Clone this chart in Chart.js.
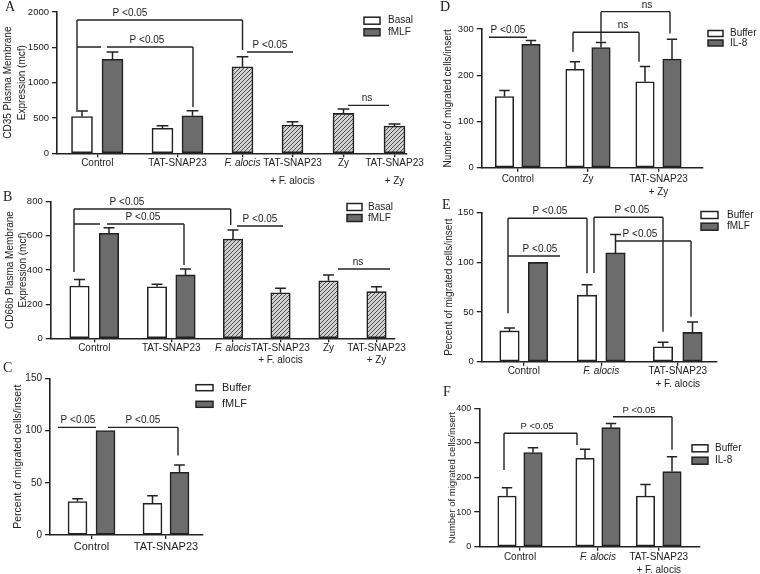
<!DOCTYPE html>
<html>
<head>
<meta charset="utf-8">
<script src="https://cdn.jsdelivr.net/npm/chart.js@4.4.1/dist/chart.umd.min.js"></script>
<style>
  html, body { margin: 0; padding: 0; background: #fff; }
  #fig { position: relative; width: 760px; height: 574px; overflow: hidden; }
  #fig canvas { position: absolute; left: 0; top: 0; }
  .tag { position: absolute; font: 14px "Liberation Serif", "DejaVu Serif", serif; line-height: 14px; color: #222; }
</style>
</head>
<body>
<div id="fig">
  <canvas id="cA" width="760" height="574"></canvas>
  <canvas id="cB" width="760" height="574"></canvas>
  <canvas id="cC" width="760" height="574"></canvas>
  <canvas id="cD" width="760" height="574"></canvas>
  <canvas id="cE" width="760" height="574"></canvas>
  <canvas id="cF" width="760" height="574"></canvas>
  <span class="tag" style="left:5px;top:0px">A</span>
  <span class="tag" style="left:3px;top:190px">B</span>
  <span class="tag" style="left:3px;top:361px">C</span>
  <span class="tag" style="left:440px;top:0px">D</span>
  <span class="tag" style="left:442px;top:198px">E</span>
  <span class="tag" style="left:443px;top:385px">F</span>
</div>
<script>
// ---- A: CD35 ----
const groupsA = ['Control', 'TAT-SNAP23', 'F. alocis', ['TAT-SNAP23', '+ F. alocis'], 'Zy', ['TAT-SNAP23', '+ Zy']];
const basalA = [520, 355, null, null, null, null];
const basalErrA = [80, 35, null, null, null, null];
const fmlfA = [1330, 530, null, null, null, null];
const fmlfErrA = [105, 72, null, null, null, null];
const stimA = [null, null, 1225, 400, 565, 385];
const stimErrA = [null, null, 140, 47, 61, 30];
const yTicksA = [0, 500, 1000, 1500, 2000];

// ---- B: CD66b ----
const groupsB = ['Control', 'TAT-SNAP23', 'F. alocis', ['TAT-SNAP23', '+ F. alocis'], 'Zy', ['TAT-SNAP23', '+ Zy']];
const basalB = [306, 302, null, null, null, null];
const basalErrB = [39, 14, null, null, null, null];
const fmlfB = [615, 371, null, null, null, null];
const fmlfErrB = [33, 35, null, null, null, null];
const stimB = [null, null, 581, 267, 337, 273];
const stimErrB = [null, null, 53, 26, 34, 29];
const yTicksB = [0, 200, 400, 600, 800];

// ---- C: migration, fMLF ----
const groupsC = ['Control', 'TAT-SNAP23'];
const bufferC = [32, 30.3];
const bufferErrC = [2.6, 7.3];
const fmlfC = [100, 60];
const fmlfErrC = [0, 7];
const yTicksC = [0, 50, 100, 150];

// ---- D: migration, IL-8 with Zy ----
const groupsD = ['Control', 'Zy', ['TAT-SNAP23', '+ Zy']];
const bufferD = [154, 213, 186];
const bufferErrD = [13, 16, 33];
const il8D = [267, 260, 235];
const il8ErrD = [8, 11, 43];
const yTicksD = [0, 100, 200, 300];

// ---- E: migration, fMLF with F. alocis ----
const groupsE = ['Control', 'F. alocis', ['TAT-SNAP23', '+ F. alocis']];
const bufferE = [31, 67, 15];
const bufferErrE = [3, 10.5, 4.5];
const fmlfE = [100, 109.5, 29.5];
const fmlfErrE = [0, 18.5, 10.5];
const yTicksE = [0, 50, 100, 150];

// ---- F: migration, IL-8 with F. alocis ----
const groupsF = ['Control', 'F. alocis', ['TAT-SNAP23', '+ F. alocis']];
const bufferF = [146.5, 255.5, 146.5];
const bufferErrF = [24, 26, 33.5];
const il8F = [272, 344, 217];
const il8ErrF = [14, 12, 43];
const yTicksF = [0, 100, 200, 300, 400];

// significance brackets (x in axis units, y in data units)
const sigA = [
  { x1: 20, x2: 185.5, y: 1887, d1: 614, d2: 1462, text: 'P <0.05', tx: 73 },
  { x1: 20, x2: 136, y: 1505, d2: 656, gap: [44, 50], text: 'P <0.05', tx: 90 },
  { x1: 190, x2: 236, y: 1434, text: 'P <0.05', tx: 213 },
  { x1: 291, x2: 332, y: 679, text: 'ns', tx: 310 }
];
const sigB = [
  { x1: 23.3, x2: 180, y: 757, d1: 388, d2: 664, text: 'P <0.05', tx: 76.3 },
  { x1: 23.3, x2: 133.3, y: 669, d2: 429, gap: [49.3, 56.3], text: 'P <0.05', tx: 92.3 },
  { x1: 186.3, x2: 232.3, y: 658, text: 'P <0.05', tx: 209.3 },
  { x1: 287.3, x2: 339.3, y: 406, text: 'ns', tx: 307.3 }
];
const sigC = [
  { x1: 8, x2: 46, y: 103, text: 'P <0.05', tx: 28 },
  { x1: 58, x2: 128, y: 103, d2: 76, text: 'P <0.05', tx: 93 }
];
const sigD = [
  { x1: 7.3, x2: 45.3, y: 282, text: 'P <0.05', tx: 26.3 },
  { x1: 91.3, x2: 157.3, y: 293, d1: 251, d2: 229, text: 'ns', tx: 141.3 },
  { x1: 119.3, x2: 188.3, y: 337.5, d1: 272.5, d2: 290.5, text: 'ns', tx: 165.3 }
];
const sigE = [
  { x1: 26.3, x2: 105.3, y: 144.4, d1: 48.7, d2: 89, text: 'P <0.05', tx: 68.3 },
  { x1: 26.3, x2: 78.3, y: 106.4, text: 'P <0.05', tx: 58.3 },
  { x1: 112.3, x2: 181.3, y: 145.4, d1: 89.3, d2: 30.2, text: 'P <0.05', tx: 150.3 },
  { x1: 133.3, x2: 209.3, y: 121.5, d2: 45.3, text: 'P <0.05', tx: 158.3 }
];
const sigF = [
  { x1: 24.7, x2: 97.7, y: 327.7, d1: 221.7, d2: 294, text: 'P <0.05', tx: 57.7 },
  { x1: 133.7, x2: 192.7, y: 375.7, d2: 280.1, text: 'P <0.05', tx: 159.7 }
];

const FONT = "'Liberation Sans', Arial, sans-serif";
const INK = '#222222';
const WHITE = '#ffffff';
const DARK = '#6c6c6c';

Chart.defaults.font.family = FONT;
Chart.defaults.color = INK;

function hatchPattern() {
  const c = document.createElement('canvas');
  c.width = 4; c.height = 4;
  const g = c.getContext('2d');
  g.fillStyle = '#d2d2d2';
  g.fillRect(0, 0, 4, 4);
  g.strokeStyle = '#3c3c3c';
  g.lineWidth = 0.9;
  g.beginPath();
  g.moveTo(0, 4); g.lineTo(4, 0);
  g.moveTo(-1, 1); g.lineTo(1, -1);
  g.moveTo(3, 5); g.lineTo(5, 3);
  g.stroke();
  return g.createPattern(c, 'repeat');
}
const HATCH = hatchPattern();

function makeChart(id, p) {
  const L = p.layout;
  const centers = L.slots.map(s => s.reduce((a, b) => a + b, 0) / s.length);
  const datasets = p.series.map(s => {
    const data = [], errs = [];
    s.values.forEach((v, g) => {
      if (v === null) return;
      const k = p.series.filter(t => t.values[g] !== null).indexOf(s);
      data.push({ x: L.slots[g][k], y: v });
      errs.push(s.errs[g]);
    });
    return {
      label: s.name, data, errs,
      backgroundColor: s.fill, borderColor: INK, borderWidth: 1.6,
      borderSkipped: false, barThickness: L.barW, grouped: false
    };
  });

  const extras = {
    id: 'extras' + id,
    afterDatasetsDraw(chart) {
      const ctx = chart.ctx, ys = chart.scales.y;
      ctx.save();
      ctx.strokeStyle = INK;
      ctx.lineWidth = 1.5;
      chart.data.datasets.forEach((ds, i) => {
        chart.getDatasetMeta(i).data.forEach((bar, j) => {
          const e = ds.errs[j];
          if (!e) return;
          const top = ys.getPixelForValue(ds.data[j].y + e);
          const half = L.barW * 0.28;
          ctx.beginPath();
          ctx.moveTo(bar.x, bar.y); ctx.lineTo(bar.x, top);
          ctx.moveTo(bar.x - half, top); ctx.lineTo(bar.x + half, top);
          ctx.stroke();
        });
      });
      ctx.restore();
    },
    afterDraw(chart) {
      const ctx = chart.ctx, xs = chart.scales.x, ys = chart.scales.y;
      const X = v => xs.getPixelForValue(v), Y = v => ys.getPixelForValue(v);
      ctx.save();
      ctx.strokeStyle = INK;
      ctx.fillStyle = INK;
      ctx.lineWidth = 1.4;
      ctx.font = L.sigSize + 'px ' + FONT;
      ctx.textAlign = 'center';
      ctx.textBaseline = 'alphabetic';
      p.sig.forEach(b => {
        const y = Y(b.y);
        ctx.beginPath();
        if (b.gap) {
          ctx.moveTo(X(b.x1), y); ctx.lineTo(X(b.gap[0]), y);
          ctx.moveTo(X(b.gap[1]), y); ctx.lineTo(X(b.x2), y);
        } else {
          ctx.moveTo(X(b.x1), y); ctx.lineTo(X(b.x2), y);
        }
        if (b.d1 != null) { ctx.moveTo(X(b.x1), y); ctx.lineTo(X(b.x1), Y(b.d1)); }
        if (b.d2 != null) { ctx.moveTo(X(b.x2), y); ctx.lineTo(X(b.x2), Y(b.d2)); }
        ctx.stroke();
        ctx.fillText(b.text, X(b.tx), y - 4);
      });
      // legend
      const lg = L.legend;
      ctx.textAlign = 'left';
      ctx.textBaseline = 'middle';
      ctx.font = lg.size + 'px ' + FONT;
      ctx.lineWidth = 1.5;
      p.series.filter(s => s.legend).forEach((s, i) => {
        const y = lg.y[i];
        ctx.fillStyle = s.fill;
        ctx.fillRect(lg.x, y - lg.h / 2, lg.w, lg.h);
        ctx.strokeRect(lg.x, y - lg.h / 2, lg.w, lg.h);
        ctx.fillStyle = INK;
        ctx.fillText(s.name, lg.x + lg.off, y);
      });
      ctx.restore();
    }
  };

  return new Chart(document.getElementById(id), {
    type: 'bar',
    data: { datasets },
    options: {
      responsive: false,
      animation: false,
      events: [],
      layout: {
        padding: {
          left: L.x0 - L.yw,
          top: L.yTop,
          right: 760 - L.x0 - L.xMax,
          bottom: Math.max(0, 574 - L.yBottom - L.xh)
        }
      },
      plugins: { legend: { display: false }, tooltip: { enabled: false } },
      scales: {
        x: {
          type: 'linear', min: 0, max: L.xMax, offset: false,
          grid: { offset: false, drawOnChartArea: false, drawTicks: true, tickLength: 4, color: INK, lineWidth: 1.3 },
          border: { display: true, color: INK, width: 1.6 },
          afterBuildTicks: s => { s.ticks = centers.map(v => ({ value: v })); },
          afterFit: s => { s.height = L.xh; },
          ticks: {
            autoSkip: false, maxRotation: 0, minRotation: 0,
            padding: L.tickPad, color: INK,
            callback: (v, i) => p.groups[i],
            font: c => ({
              family: FONT, size: L.xSize, lineHeight: L.tickLH + 'px',
              style: p.groups[c.index] === 'F. alocis' ? 'italic' : 'normal'
            })
          }
        },
        y: {
          min: 0, max: p.yTicks[p.yTicks.length - 1],
          grid: { drawOnChartArea: false, drawTicks: true, tickLength: 5, color: INK, lineWidth: 1.3 },
          border: { display: true, color: INK, width: 1.6 },
          afterFit: s => { s.width = L.yw; },
          afterBuildTicks: s => { s.ticks = p.yTicks.map(v => ({ value: v })); },
          ticks: { padding: 3, color: INK, font: { size: L.ySize }, callback: v => String(v) },
          title: {
            display: true, text: p.yTitle, color: INK, padding: 0,
            font: { size: L.titleSize, lineHeight: L.titleLH + 'px' }
          }
        }
      }
    },
    plugins: [extras]
  });
}

makeChart('cA', {
  groups: groupsA, yTicks: yTicksA, sig: sigA,
  yTitle: ['CD35 Plasma Membrane', 'Expression (mcf)'],
  series: [
    { name: 'Basal', values: basalA, errs: basalErrA, fill: WHITE, legend: true },
    { name: 'fMLF', values: fmlfA, errs: fmlfErrA, fill: DARK, legend: true },
    { name: 'Stimulus', values: stimA, errs: stimErrA, fill: HATCH, legend: false }
  ],
  layout: {
    x0: 57, xMax: 350, yTop: 12, yBottom: 153.3, yw: 56, xh: 40, barW: 21,
    slots: [[25, 55.5], [105.5, 135.5], [185.5], [235.5], [286.5], [337.5]],
    tickPad: -3.3, tickLH: 18, xSize: 10, ySize: 9.5, titleSize: 10, titleLH: 14, sigSize: 10,
    legend: { x: 364, y: [20.7, 32.3], w: 16, h: 7, off: 24, size: 10 }
  }
});

makeChart('cB', {
  groups: groupsB, yTicks: yTicksB, sig: sigB,
  yTitle: ['CD66b Plasma Membrane', 'Expression (mcf)'],
  series: [
    { name: 'Basal', values: basalB, errs: basalErrB, fill: WHITE, legend: true },
    { name: 'fMLF', values: fmlfB, errs: fmlfErrB, fill: DARK, legend: true },
    { name: 'Stimulus', values: stimB, errs: stimErrB, fill: HATCH, legend: false }
  ],
  layout: {
    x0: 50.7, xMax: 344.3, yTop: 201.7, yBottom: 338.3, yw: 47.2, xh: 30, barW: 19.5,
    slots: [[28.8, 58.3], [106.3, 134.8], [182.3], [229.8], [277.8], [325.8]],
    tickPad: 0, tickLH: 12, xSize: 10, ySize: 9.5, titleSize: 10, titleLH: 13, sigSize: 10,
    legend: { x: 347, y: [207, 218], w: 15, h: 7, off: 21, size: 10 }
  }
});

makeChart('cC', {
  groups: groupsC, yTicks: yTicksC, sig: sigC,
  yTitle: 'Percent of migrated cells/insert',
  series: [
    { name: 'Buffer', values: bufferC, errs: bufferErrC, fill: WHITE, legend: true },
    { name: 'fMLF', values: fmlfC, errs: fmlfErrC, fill: DARK, legend: true }
  ],
  layout: {
    x0: 50, xMax: 153, yTop: 378.3, yBottom: 535, yw: 38.5, xh: 22, barW: 19,
    slots: [[27.5, 55.5], [102.5, 129.5]],
    tickPad: 1.7, tickLH: 12, xSize: 11, ySize: 10, titleSize: 10.5, titleLH: 13, sigSize: 10,
    legend: { x: 196, y: [387.7, 404.3], w: 17, h: 6, off: 26, size: 11 }
  }
});

makeChart('cD', {
  groups: groupsD, yTicks: yTicksD, sig: sigD,
  yTitle: 'Number of migrated cells/insert',
  series: [
    { name: 'Buffer', values: bufferD, errs: bufferErrD, fill: WHITE, legend: true },
    { name: 'IL-8', values: il8D, errs: il8ErrD, fill: DARK, legend: true }
  ],
  layout: {
    x0: 481.7, xMax: 221.3, yTop: 29, yBottom: 167.7, yw: 39.7, xh: 32, barW: 18.5,
    slots: [[22.8, 49.3], [93.3, 119.3], [163.3, 190.3]],
    tickPad: 0.8, tickLH: 13, xSize: 10, ySize: 9.5, titleSize: 10, titleLH: 12, sigSize: 10,
    legend: { x: 708, y: [33.5, 43], w: 15, h: 6, off: 22, size: 10 }
  }
});

makeChart('cE', {
  groups: groupsE, yTicks: yTicksE, sig: sigE,
  yTitle: 'Percent of migrated cells/insert',
  series: [
    { name: 'Buffer', values: bufferE, errs: bufferErrE, fill: WHITE, legend: true },
    { name: 'fMLF', values: fmlfE, errs: fmlfErrE, fill: DARK, legend: true }
  ],
  layout: {
    x0: 481.7, xMax: 235.3, yTop: 212.7, yBottom: 361.7, yw: 38.7, xh: 30, barW: 19.5,
    slots: [[27.8, 56.3], [105.3, 133.8], [181.3, 210.8]],
    tickPad: -0.3, tickLH: 12.6, xSize: 10, ySize: 9.5, titleSize: 10, titleLH: 12, sigSize: 10,
    legend: { x: 701, y: [215, 226.7], w: 17, h: 7, off: 26, size: 10 }
  }
});

makeChart('cF', {
  groups: groupsF, yTicks: yTicksF, sig: sigF,
  yTitle: 'Number of migrated cells/insert',
  series: [
    { name: 'Buffer', values: bufferF, errs: bufferErrF, fill: WHITE, legend: true },
    { name: 'IL-8', values: il8F, errs: il8ErrF, fill: DARK, legend: true }
  ],
  layout: {
    x0: 479.3, xMax: 220.7, yTop: 408.3, yBottom: 546.7, yw: 33.3, xh: 27.3, barW: 18.5,
    slots: [[27.7, 53.7], [105.7, 131.7], [166.2, 192.7]],
    tickPad: 0.85, tickLH: 12.3, xSize: 10, ySize: 9, titleSize: 9.5, titleLH: 12, sigSize: 9.5,
    legend: { x: 692, y: [448.3, 460.7], w: 16, h: 7, off: 23, size: 10 }
  }
});
</script>
</body>
</html>
